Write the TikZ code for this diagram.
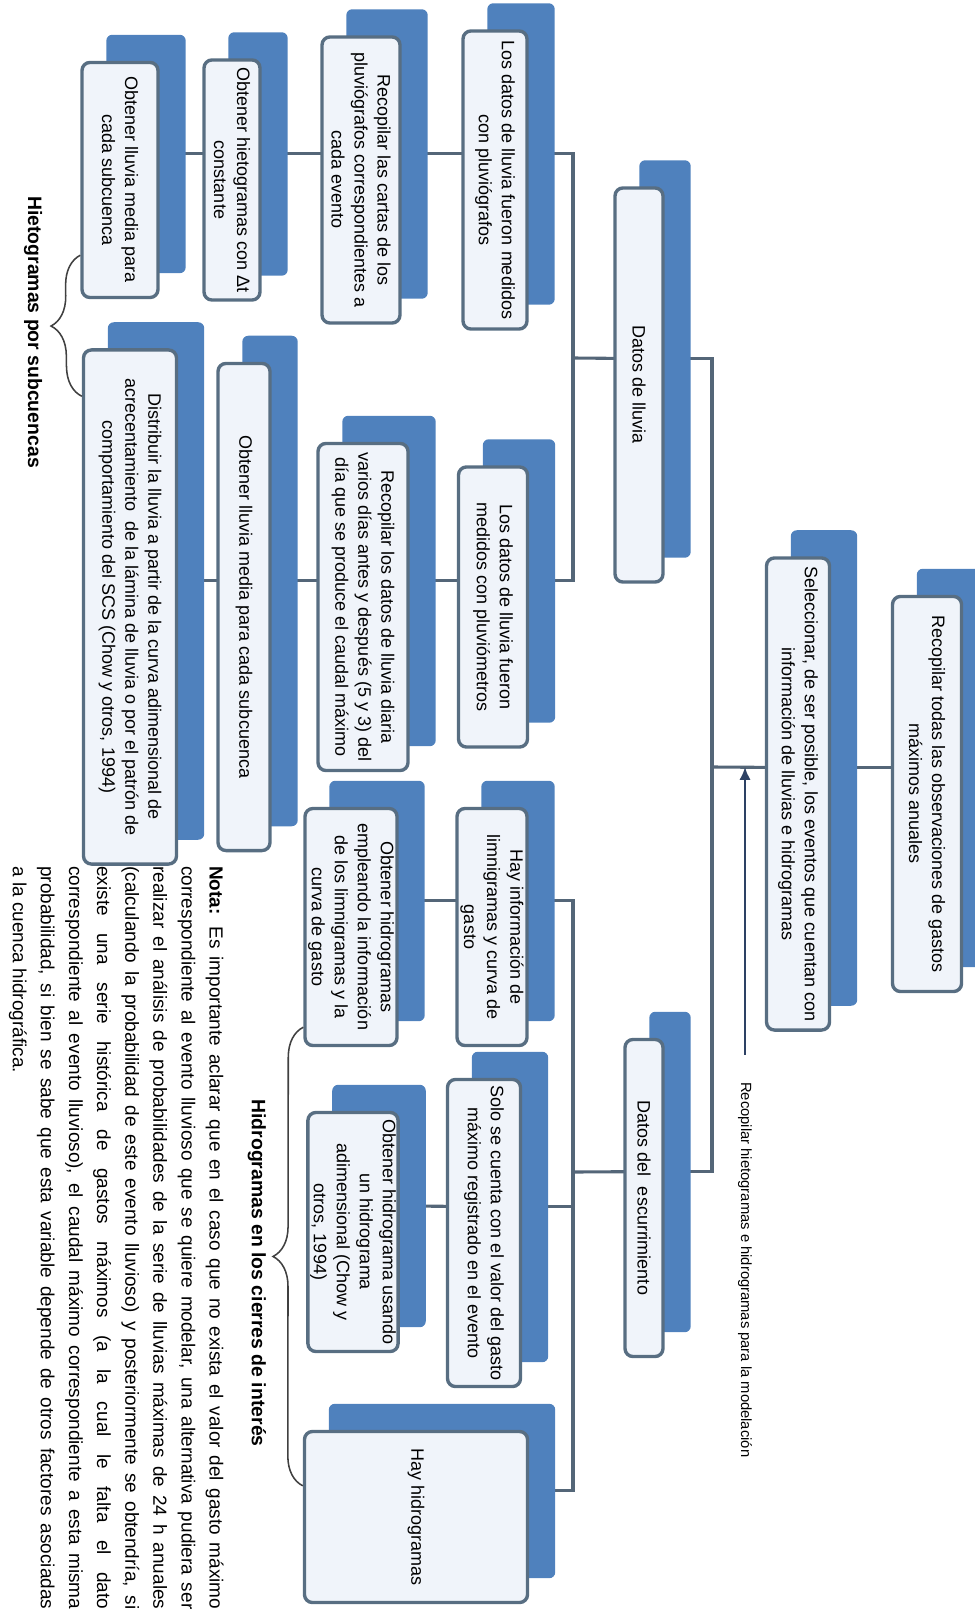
\documentclass[tikz,border=0pt]{standalone}
\usepackage{fontspec}
\setmainfont{Liberation Sans}
\usetikzlibrary{arrows.meta,calc,decorations.pathreplacing}
\tikzset{>=latex}
\definecolor{azulsombra}{RGB}{79,129,189}
\definecolor{marco}{RGB}{88,110,130}
\definecolor{fondo}{RGB}{240,244,250}
\definecolor{gristrazo}{RGB}{84,102,120}
\definecolor{azulflecha}{RGB}{45,65,100}
\tikzstyle{caja}=[rectangle,draw=marco,fill=fondo,line width=2.4pt,rounded corners=0.2cm,rotate=-90,align=center,inner sep=1.5pt,font=\fontsize{12.8}{16.4}\selectfont]
\tikzstyle{sombra}=[fill=azulsombra,rounded corners=0.15cm]
\tikzstyle{conector}=[draw=gristrazo,line width=2.2pt]
\tikzstyle{flecha}=[draw=azulflecha,line width=1.6pt,-{Latex[length=0.32cm,width=0.28cm]}]
\tikzstyle{llave}=[draw=black!75,line width=1.1pt,decorate,decoration={brace,amplitude=0.75cm}]
\tikzstyle{titulo}=[rotate=-90,font=\fontsize{13.8}{16}\selectfont\bfseries]
\pgfdeclarelayer{conectores}
\pgfdeclarelayer{sombras}
\pgfsetlayers{conectores,sombras,main}

\begin{document}
\begin{tikzpicture}[x=0.025cm,y=-0.025cm]
	\def \desp {0.65cm}
	\def \alto {0.66cm}
	\useasboundingbox (0,0) rectangle (974,1615);
	
	% rama de lluvia (pluviografos)
	\node[caja, minimum width=5.875cm, minimum height=1.9cm] (A1) at (120,180) {Obtener lluvia media para\\cada subcuenca};
	\node[caja, minimum width=6cm, minimum height=1.4cm] (A2) at (232,180) {Obtener hietogramas con Δt\\constante};
	\node[caja, minimum width=7.15cm, minimum height=1.95cm] (A3) at (361,180) {Recopilar las cartas de los\\pluviógrafos correspondientes a\\cada evento};
	\node[caja, minimum width=7.45cm, minimum height=1.6cm] (A4) at (495,180) {Los datos de lluvia fueron medidos\\con pluviógrafos};
	
	% rama de lluvia (pluviometros)
	\node[caja, minimum width=12.85cm, minimum height=2.325cm] (B1) at (130,607) {Distribuir la lluvia a partir de la curva adimensional de\\acrecentamiento\ \ de la lámina de lluvia o por el patrón de\\comportamiento del SCS (Chow y otros, 1994)};
	\node[caja, minimum width=12.175cm, minimum height=1.3cm] (B2) at (244,607) {Obtener lluvia media para cada subcuenca};
	\node[caja, minimum width=8.175cm, minimum height=2.25cm] (B3) at (363,607) {Recopilar los datos de lluvia diaria\\varios días antes y después (5 y 3) del\\día que se produce el caudal máximo};
	\node[caja, minimum width=7cm, minimum height=1.725cm] (B4) at (493,607) {Los datos de lluvia fueron\\medidos con pluviómetros};
	
	\node[caja, minimum width=9.85cm, minimum height=1.2cm] (L) at (639,385) {Datos de lluvia};
	
	% rama de escurrimiento
	\node[caja, minimum width=5.925cm, minimum height=2.3cm] (C1) at (351,927) {Obtener hidrogramas\\empleando la información\\de los limnigramas y la\\curva de gasto};
	\node[caja, minimum width=5.925cm, minimum height=1.75cm] (C2) at (492,927) {Hay información de\\limnigramas y curva de\\gasto};
	\node[caja, minimum width=5.975cm, minimum height=2.175cm] (D1) at (353,1232) {Obtener hidrograma usando\\un hidrograma\\adimensional (Chow y\\otros, 1994)};
	\node[caja, minimum width=7.675cm, minimum height=1.825cm] (D2) at (484,1233) {Solo se cuenta con el valor del gasto\\máximo registrado en el evento};
	\node[caja, minimum width=4.275cm, minimum height=5.575cm] (E) at (416,1517) {Hay hidrogramas};
	
	\node[caja, minimum width=7.925cm, minimum height=0.95cm] (Esc) at (644,1198) {Datos del\ \ escurrimiento};
	
	\node[caja, minimum width=11.8cm, minimum height=1.575cm] (Sel) at (798,794) {Seleccionar, de ser posible, los eventos que cuentan con\\información de lluvias e hidrogramas};
	\node[caja, minimum width=9.875cm, minimum height=1.725cm] (Rec) at (927,794) {Recopilar todas las observaciones de gastos\\máximos anuales};
	
	\begin{pgfonlayer}{sombras}
		\foreach \n in {A1,A2,A3,A4,B1,B2,B3,B4,L,C1,C2,D1,D2,E,Esc,Sel,Rec}
			\fill[sombra] ([shift={(\desp,\desp)}]\n.south west) rectangle ([shift={(\desp,\desp)}]\n.north east);
	\end{pgfonlayer}
	
	\coordinate (barraL) at (573,358);
	\coordinate (barraE) at (573,1172);
	\coordinate (barraT) at (712,767);
	
	\begin{pgfonlayer}{conectores}
		\draw[conector] ([yshift=\alto]A1.center) -- ([yshift=\alto]A2.center);
		\draw[conector] ([yshift=\alto]A2.center) -- ([yshift=\alto]A3.center);
		\draw[conector] ([yshift=\alto]A3.center) -- ([yshift=\alto]A4.center);
		\draw[conector] ([yshift=\alto]B1.center) -- ([yshift=\alto]B2.center);
		\draw[conector] ([yshift=\alto]B2.center) -- ([yshift=\alto]B3.center);
		\draw[conector] ([yshift=\alto]B3.center) -- ([yshift=\alto]B4.center);
		\draw[conector] ([yshift=\alto]C1.center) -- ([yshift=\alto]C2.center);
		\draw[conector] ([yshift=\alto]D1.center) -- ([yshift=\alto]D2.center);
		
		\draw[conector] ([yshift=\alto]A4.center) -| (barraL) |- ([yshift=\alto]B4.center);
		\draw[conector] (barraL) -- ([yshift=\alto]L.center);
		\draw[conector] ([yshift=\alto]C2.center) -| (barraE) |- ([yshift=\alto]E.center);
		\draw[conector] ([yshift=\alto]D2.center) -| (barraE);
		\draw[conector] (barraE) -- ([yshift=\alto]Esc.center);
		\draw[conector] ([yshift=\alto]L.center) -| (barraT) |- ([yshift=\alto]Esc.center);
		\draw[conector] (barraT) -- ([yshift=\alto]Sel.center);
		\draw[conector] ([yshift=\alto]Sel.center) -- ([yshift=\alto]Rec.center);
	\end{pgfonlayer}
	
	\node[rotate=-90, anchor=west, inner sep=0pt, font=\fontsize{10.5}{12}\selectfont] (modelacion) at (745,1082) {Recopilar hietogramas e hidrogramas para la modelación};
	\draw[flecha] ([yshift=0.68cm]modelacion.west) -- (modelacion.west |- barraT);
	
	\draw[llave] ([yshift=-1.2cm]B1.south west) -- ([yshift=1.1cm]A1.south east);
	\draw[llave] ([yshift=-1.4cm]E.south west) -- ([yshift=0.5cm]C1.south east);
	\node[titulo] (subcuencas) at (33,332) {Hietogramas por subcuencas};
	\node[titulo] (cierres) at (257,1273) {Hidrogramas en los cierres de interés};
	
	\node[rotate=-90, anchor=north west, text width=18.575cm, align=justify, inner sep=0pt, font=\fontsize{13.5}{20}\selectfont] (nota) at (224,866) {\textbf{Nota:} Es importante aclarar que en el caso que no exista el valor del gasto máximo\linebreak correspondiente al evento lluvioso que se quiere modelar, una alternativa pudiera ser\linebreak realizar el análisis de probabilidades de la serie de lluvias máximas de 24 h anuales\linebreak (calculando la probabilidad de este evento lluvioso) y posteriormente se obtendría, si\linebreak existe una serie histórica de gastos máximos (a la cual le falta el dato\linebreak correspondiente al evento lluvioso), el caudal máximo correspondiente a esta misma\linebreak probabilidad, si bien se sabe que esta variable depende de otros factores asociadas\linebreak a la cuenca hidrográfica.};
\end{tikzpicture}
\end{document}
